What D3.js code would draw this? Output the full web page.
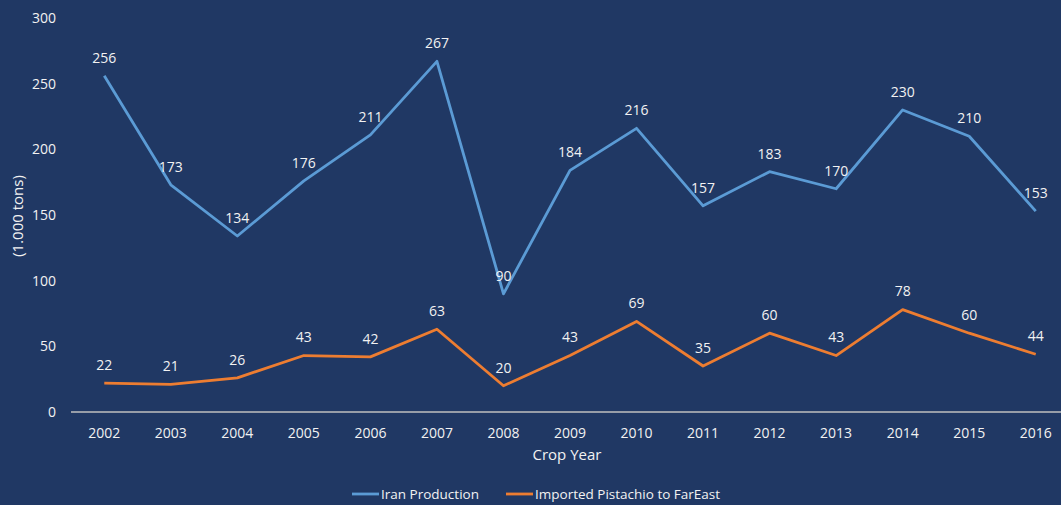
<!DOCTYPE html>
<html><head><meta charset="utf-8">
<script src="https://cdn.jsdelivr.net/npm/d3@7"></script>
<style>
html,body{margin:0;padding:0;background:#203864;}
svg{display:block;}
text{font-family:"Open Sans","Noto Sans",sans-serif;fill:#F2F2F2;}
</style></head>
<body>
<svg id="c" width="1061" height="505"></svg>
<script>
const years = ["2002","2003","2004","2005","2006","2007","2008","2009","2010","2011","2012","2013","2014","2015","2016"];
const iranProduction = [256,173,134,176,211,267,90,184,216,157,183,170,230,210,153];
const importedFarEast = [22,21,26,43,42,63,20,43,69,35,60,43,78,60,44];
const yTicks = [0,50,100,150,200,250,300];
const seriesNames = ["Iran Production","Imported Pistachio to FarEast"];
const seriesColors = ["#5B9BD5","#ED7D31"];

const svg = d3.select("#c");
svg.append("rect").attr("width",1061).attr("height",505).attr("fill","#203864");

const x = d3.scaleBand().domain(years).range([71,1069]);
const y = d3.scaleLinear().domain([0,300]).range([412,18]);
const cx = d => x(d) + x.bandwidth()/2;

// y tick labels
svg.append("g").selectAll("text").data(yTicks).join("text")
  .attr("x",56).attr("y",d=>y(d)).attr("dy","0.35em")
  .attr("text-anchor","end").attr("font-size",14).text(d=>d);

// x axis line
svg.append("line").attr("x1",71).attr("x2",1069).attr("y1",y(0)).attr("y2",y(0))
  .attr("stroke","#BFBFBF").attr("stroke-width",1.3);

// x tick labels
svg.append("g").selectAll("text").data(years).join("text")
  .attr("x",d=>cx(d)).attr("y",433).attr("dy","0.35em")
  .attr("text-anchor","middle").attr("font-size",14).text(d=>d);

// axis titles
svg.append("text").attr("x",567).attr("y",455).attr("dy","0.35em")
  .attr("text-anchor","middle").attr("font-size",15).text("Crop Year");
svg.append("text").attr("transform","translate(18,216) rotate(-90)").attr("dy","0.35em")
  .attr("text-anchor","middle").attr("font-size",15).text("(1.000 tons)");

const series = [iranProduction, importedFarEast];
const line = d3.line().x((d,i)=>cx(years[i])).y(d=>y(d));
series.forEach((vals,si)=>{
  svg.append("path").datum(vals).attr("d",line).attr("fill","none")
    .attr("stroke",seriesColors[si]).attr("stroke-width",2.8).attr("stroke-linejoin","round");
  svg.append("g").selectAll("text").data(vals).join("text")
    .attr("x",(d,i)=>cx(years[i])).attr("y",d=>y(d)-18).attr("dy","0.35em")
    .attr("text-anchor","middle").attr("font-size",14).text(d=>d);
});

// legend
const legX = [352,506];
seriesNames.forEach((n,i)=>{
  svg.append("line").attr("x1",legX[i]).attr("x2",legX[i]+27).attr("y1",494).attr("y2",494)
    .attr("stroke",seriesColors[i]).attr("stroke-width",2.8);
  svg.append("text").attr("x",legX[i]+29).attr("y",494).attr("dy","0.35em")
    .attr("font-size",13.5).text(n);
});
</script>
</body></html>
